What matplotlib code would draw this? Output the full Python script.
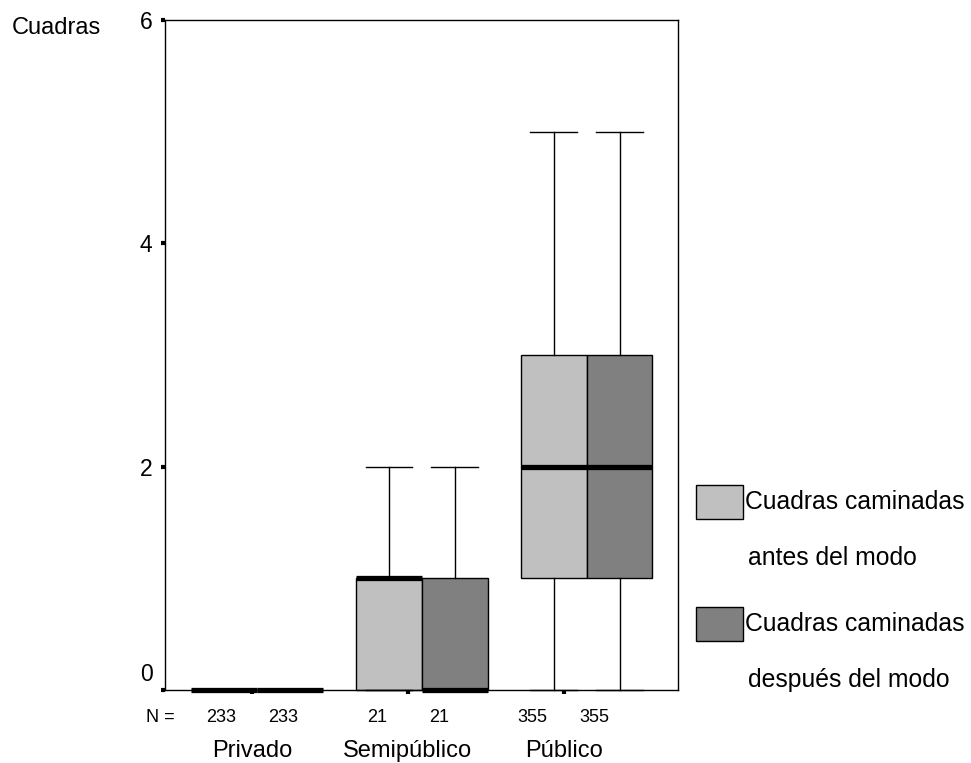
import matplotlib
matplotlib.use("Agg")
import matplotlib.pyplot as plt
import matplotlib.transforms as mtransforms
from matplotlib.patches import Rectangle
import numpy as np

plt.rcParams['font.family'] = ['Liberation Sans', 'DejaVu Sans']

# ---- data ----
groups = ["Privado", "Semipúblico", "Público"]
series = ["Cuadras caminadas\nantes del modo", "Cuadras caminadas\ndespués del modo"]
n_counts = [233, 233, 21, 21, 355, 355]
# stats per group for "antes" series
antes_q1 = [0, 0, 1]
antes_med = [0, 1, 2]
antes_q3 = [0, 1, 3]
antes_lo = [0, 0, 0]
antes_hi = [0, 2, 5]
# stats per group for "después" series
desp_q1 = [0, 0, 1]
desp_med = [0, 0, 2]
desp_q3 = [0, 1, 3]
desp_lo = [0, 0, 0]
desp_hi = [0, 2, 5]
y_ticks = [0, 2, 4, 6]
colors = ["#c0c0c0", "#808080"]

fig = plt.figure(figsize=(9.71, 7.63), dpi=100)
ax = fig.add_axes([165/971, 1-690/763, (678-165)/971, (690-20)/763])

centers = np.arange(1, len(groups) + 1)
off = 0.2
bw = 0.4

def mkstats(q1, med, q3, lo, hi):
    return [dict(q1=a, med=b, q3=c, whislo=d, whishi=e, fliers=[])
            for a, b, c, d, e in zip(q1, med, q3, lo, hi)]

all_stats = [mkstats(antes_q1, antes_med, antes_q3, antes_lo, antes_hi),
             mkstats(desp_q1, desp_med, desp_q3, desp_lo, desp_hi)]
for i, (st, col) in enumerate(zip(all_stats, colors)):
    pos = centers + (-off if i == 0 else off)
    art = ax.bxp(st, positions=pos, widths=bw, patch_artist=True,
                 showfliers=False, capwidths=0.285, manage_ticks=False,
                 boxprops=dict(facecolor=col, edgecolor='black', linewidth=1.0),
                 whiskerprops=dict(color='black', linewidth=1.0),
                 capprops=dict(color='black', linewidth=1.0),
                 medianprops=dict(color='black', linewidth=3.8, solid_capstyle='butt'))
    for k in art:
        for a in art[k]:
            a.set_clip_on(False)
    for m in art['medians']:
        m.set_zorder(5)

ax.set_xlim(0.44, 3.555)
ax.set_ylim(0, 6)
ax.set_yticks(y_ticks)
ax.set_yticklabels([str(v) for v in y_ticks], fontsize=16.5)

# text row uses a slightly compressed horizontal layout (as in the original)
scale, shift = 0.945, 0.025
tick_pos = centers * scale + shift
ax.set_xticks(tick_pos)
ax.set_xticklabels([])
ax.tick_params(axis='both', direction='out', length=3, width=3, color='black')
ax.tick_params(axis='y', pad=6)

# raise the "0" label as in the original
lbl0 = ax.get_yticklabels()[0]
lbl0.set_transform(lbl0.get_transform() + mtransforms.ScaledTranslation(0, 18/100, fig.dpi_scale_trans))

for sp in ax.spines.values():
    sp.set_linewidth(1.0)

trans = mtransforms.blended_transform_factory(ax.transData, fig.transFigure)
box_pos = np.array([c + d for c in centers for d in (-off, off)])
for p, n in zip(box_pos, n_counts):
    ax.text(p * scale + shift, 1 - 717/763, str(n), transform=trans, ha='center', va='center',
            fontsize=13, family=['Liberation Sans Narrow', 'Liberation Sans'])
for p, g in zip(tick_pos, groups):
    ax.text(p, 1 - 751/763, g, transform=trans, ha='center', va='center', fontsize=17)
fig.text(160/971, 1 - 717/763, "N =", ha='center', va='center', fontsize=13,
         family=['Liberation Sans Narrow', 'Liberation Sans'])

fig.text(12/971, 1 - 28/763, "Cuadras", ha='left', va='center', fontsize=17)

# legend
leg_y = [1 - 519/763, 1 - 641/763]
for y0, col, lab in zip(leg_y, colors, series):
    fig.patches.append(Rectangle((696/971, y0), 47/971, 34/763, transform=fig.transFigure,
                                 facecolor=col, edgecolor='black', linewidth=1.0))
    l1, l2 = lab.split("\n")
    fig.text(745/971, y0 + 17/763, l1, ha='left', va='center', fontsize=17.8)
    fig.text(748/971, y0 + 17/763 - 56/763, l2, ha='left', va='center', fontsize=17.8)

fig.savefig("out.png", dpi=100)
